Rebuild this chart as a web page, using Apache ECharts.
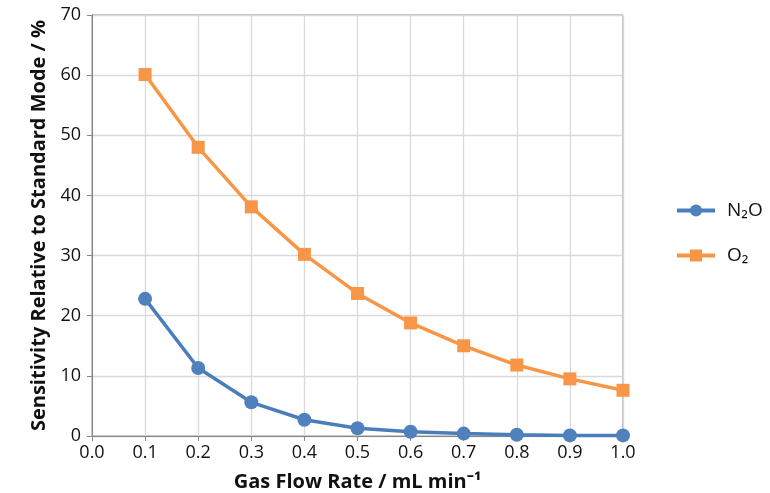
<!DOCTYPE html>
<html>
<head>
<meta charset="utf-8">
<script src="https://cdn.jsdelivr.net/npm/echarts@6/dist/echarts.min.js"></script>
<style>
  html, body { margin: 0; padding: 0; background: #fff; }
  #chart { width: 770px; height: 493px; }
</style>
</head>
<body>
<div id="chart"></div>
<script>
// Gas flow rate (mL/min) and sensitivity relative to standard mode (%)
const flowRates = [0.1, 0.2, 0.3, 0.4, 0.5, 0.6, 0.7, 0.8, 0.9, 1.0];
const n2oValues = [22.8, 11.3, 5.6, 2.7, 1.3, 0.7, 0.4, 0.2, 0.1, 0.1];
const o2Values  = [60.1, 48.0, 38.1, 30.2, 23.7, 18.8, 15.0, 11.8, 9.5, 7.6];
const seriesNames = ['N\u2082O', 'O\u2082'];

const FONT = '"Open Sans", "Liberation Sans", sans-serif';
const gridColor = '#d9d9d9';
const axisColor = '#868686';

const pairs = vals => flowRates.map((x, i) => [x, vals[i]]);

const chart = echarts.init(document.getElementById('chart'), null, { renderer: 'canvas' });
chart.setOption({
  animation: false,
  backgroundColor: '#fff',
  textStyle: { fontFamily: FONT },
  grid: {
    left: 92, right: 147, top: 15, bottom: 57,
    containLabel: false,
    outerBoundsMode: 'none',
    show: true, borderColor: axisColor, borderWidth: 1, backgroundColor: 'transparent'
  },
  legend: {
    orient: 'vertical',
    left: 670, top: 196,
    itemGap: 26,
    itemWidth: 38, itemHeight: 15,
    lineStyle: { width: 4 },
    textStyle: { fontFamily: FONT, fontSize: 19, color: '#111', padding: [0, 0, 0, 7] },
    data: seriesNames
  },
  xAxis: {
    type: 'value', min: 0, max: 1, interval: 0.1,
    name: 'Gas Flow Rate / mL min\u207B\u00B9',
    nameLocation: 'middle', nameGap: 36,
    nameTextStyle: { fontFamily: FONT, fontWeight: 'bold', fontSize: 20, color: '#111' },
    axisLine: { show: true, lineStyle: { color: axisColor } },
    axisTick: { show: true, length: 5, lineStyle: { color: axisColor } },
    axisLabel: { fontFamily: FONT, fontSize: 18, color: '#111', margin: 8,
      formatter: v => v.toFixed(1) },
    splitLine: { show: true, lineStyle: { color: gridColor, width: 1.3 } }
  },
  yAxis: {
    type: 'value', min: 0, max: 70, interval: 10,
    name: 'Sensitivity Relative to Standard Mode / %',
    nameLocation: 'middle', nameGap: 38,
    nameTextStyle: { fontFamily: FONT, fontWeight: 'bold', fontSize: 20, color: '#111' },
    axisLine: { show: true, lineStyle: { color: axisColor } },
    axisTick: { show: true, length: 5, lineStyle: { color: axisColor } },
    axisLabel: { fontFamily: FONT, fontSize: 18, color: '#111', margin: 11 },
    splitLine: { show: true, lineStyle: { color: gridColor, width: 1.3 } }
  },
  series: [
    {
      name: seriesNames[0], type: 'line', data: pairs(n2oValues),
      symbol: 'circle', symbolSize: 14,
      lineStyle: { color: '#4a7ebb', width: 3.5 },
      itemStyle: { color: '#4f81bd' }
    },
    {
      name: seriesNames[1], type: 'line', data: pairs(o2Values),
      symbol: 'rect', symbolSize: 13,
      lineStyle: { color: '#f79646', width: 3.5 },
      itemStyle: { color: '#f79646' }
    }
  ]
});
</script>
</body>
</html>
